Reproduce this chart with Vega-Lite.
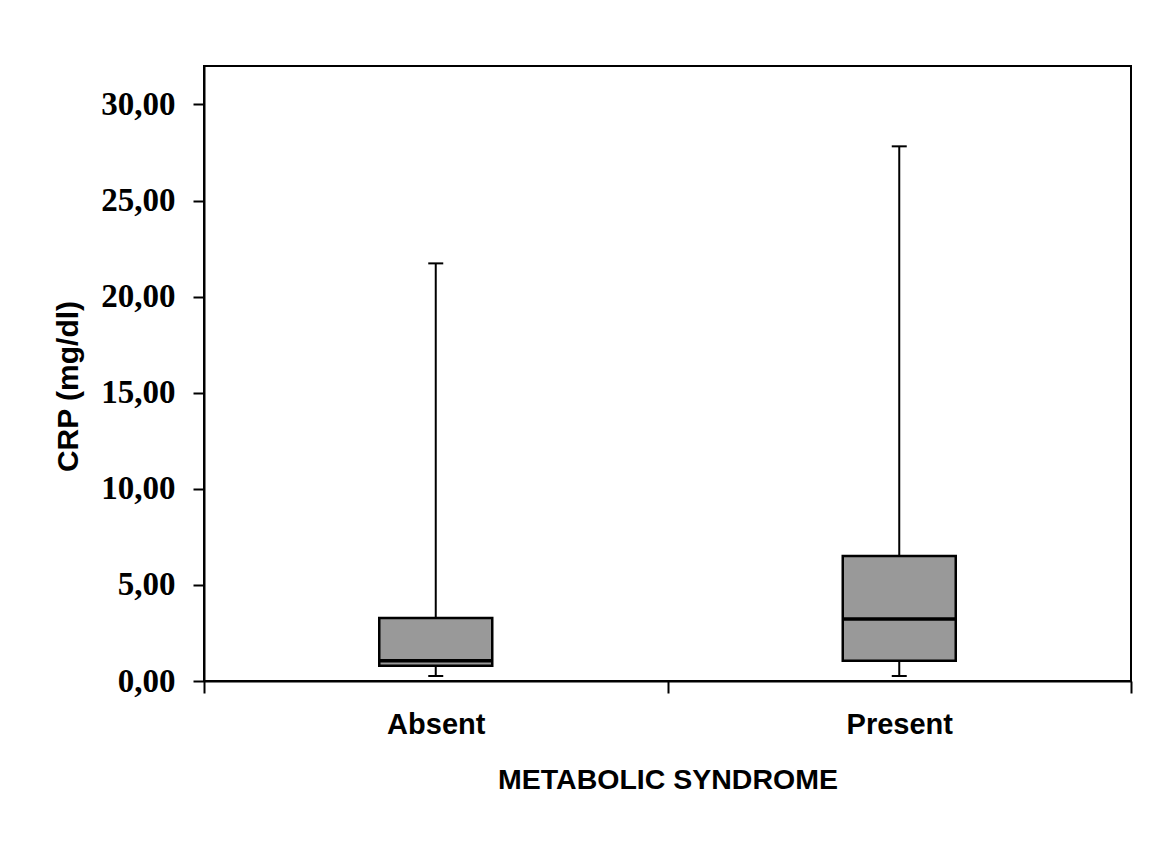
{
  "$schema": "https://vega.github.io/schema/vega-lite/v6.json",
  "autosize": "none",
  "width": 927,
  "height": 615,
  "padding": {"left": 204, "top": 66, "right": 37, "bottom": 169},
  "background": "white",
  "config": {
    "view": {"stroke": "black", "strokeWidth": 2},
    "axis": {"grid": false, "domainColor": "black", "domainWidth": 2, "tickColor": "black", "tickWidth": 2, "labelColor": "black", "titleColor": "black"}
  },
  "data": {
    "values": [
      {"group": "Absent", "low": 0.26, "q1": 0.8, "median": 1.05, "q3": 3.28, "high": 21.73},
      {"group": "Present", "low": 0.26, "q1": 1.06, "median": 3.22, "q3": 6.51, "high": 27.82}
    ]
  },
  "encoding": {
    "x": {
      "field": "group", "type": "nominal",
      "scale": {"paddingInner": 0, "paddingOuter": 0},
      "axis": {
        "title": "METABOLIC SYNDROME", "labelAngle": 0, "tickBand": "extent",
        "tickSize": 12, "labelPadding": 17,
        "labelFont": "Liberation Sans", "labelFontWeight": "bold", "labelFontSize": 29,
        "titleFont": "Liberation Sans", "titleFontWeight": "bold", "titleFontSize": 28.5, "titlePadding": 26
      }
    }
  },
  "layer": [
    {
      "mark": {"type": "rule", "color": "black", "strokeWidth": 2},
      "encoding": {
        "y": {
          "field": "low", "type": "quantitative",
          "scale": {"domain": [0, 32], "nice": false},
          "axis": {
            "title": "CRP (mg/dl)", "values": [0, 5, 10, 15, 20, 25, 30],
            "labelExpr": "replace(format(datum.value, '.2f'), '.', ',')",
            "tickSize": 11, "labelPadding": 18,
            "labelFont": "Liberation Serif", "labelFontWeight": "bold", "labelFontSize": 33,
            "titleFont": "Liberation Sans", "titleFontWeight": "bold", "titleFontSize": 30,
            "titleX": -136, "titleY": 320, "titleAngle": -90, "titleAlign": "center", "titleBaseline": "middle"
          }
        },
        "y2": {"field": "high"}
      }
    },
    {
      "mark": {"type": "bar", "fill": "#999999", "stroke": "black", "strokeWidth": 2.5, "size": 113},
      "encoding": {
        "y": {"field": "q1", "type": "quantitative"},
        "y2": {"field": "q3"}
      }
    },
    {
      "mark": {"type": "tick", "color": "black", "size": 113, "thickness": 3.5, "opacity": 1},
      "encoding": {"y": {"field": "median", "type": "quantitative"}}
    },
    {
      "mark": {"type": "tick", "color": "black", "size": 15, "thickness": 2, "opacity": 1},
      "encoding": {"y": {"field": "high", "type": "quantitative"}}
    },
    {
      "mark": {"type": "tick", "color": "black", "size": 15, "thickness": 2, "opacity": 1},
      "encoding": {"y": {"field": "low", "type": "quantitative"}}
    }
  ]
}
